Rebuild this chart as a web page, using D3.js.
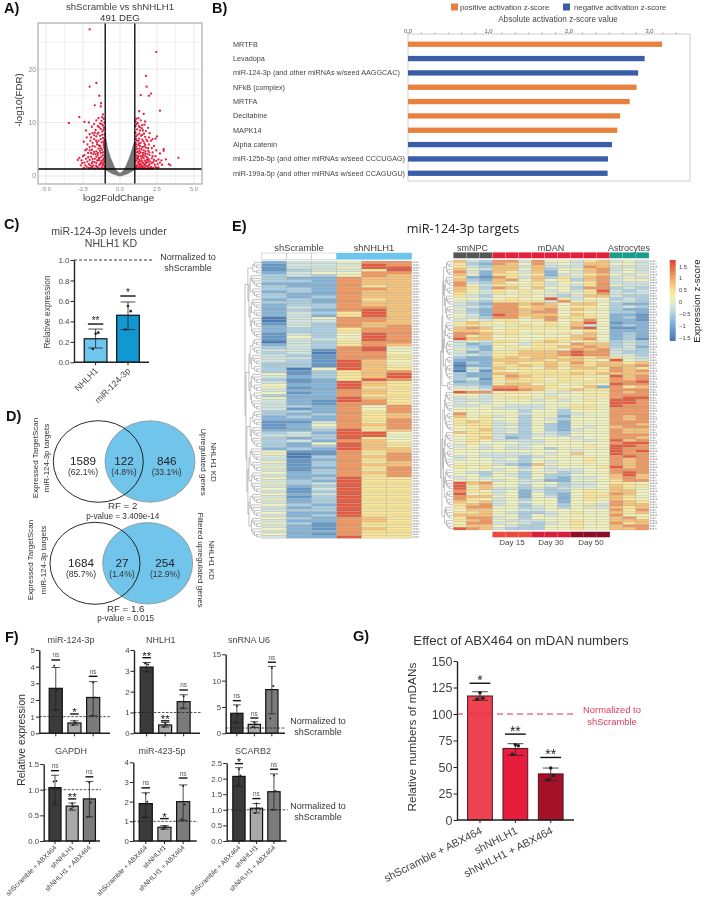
<!DOCTYPE html>
<html>
<head>
<meta charset="UTF-8">
<title>NHLH1 knockdown figure</title>
<script src="https://d3js.org/d3.v7.min.js"></script>
<style>
  html, body { margin: 0; padding: 0; background: #fff; }
  svg { display: block; filter: blur(0.35px); }
  text { font-family: "Liberation Sans", Arial, sans-serif; fill: #333; }
  .os { font-family: "Open Sans", sans-serif; }
</style>
</head>
<body>
<svg id="fig" width="705" height="899"></svg>
<script>
// ---- A) volcano ----
var volcanoTicksX = [-5, -2.5, 0, 2.5, 5];
var volcanoTicksY = [0, 10, 20];
var volcanoCuts = { fc: [-1, 1], fdr: 1.3 };
// outline of the grey non significant points
var volcanoGrey = [[0,-0.1],[-0.5,0.3],[-1.0,1.1],[-1.15,1.25],[-1.02,1.7],[-1.08,4],[-1.05,7],[-0.98,9.2],[-0.93,7],[-0.8,5],[-0.62,3.4],[-0.42,2.1],[-0.25,1.1],[-0.08,0.7],[0,0.55],[0.08,0.7],[0.25,1.1],[0.42,2.1],[0.6,3.3],[0.78,4.8],[0.93,6.2],[1.0,6.7],[1.06,5],[1.05,2],[1.15,1.25],[1.0,1.1],[0.5,0.3],[0,-0.1]];
var volcanoDown = [[-2.05,27.4],[-1.6,17.4],[-2.05,16.7],[-1.4,15],[-1.28,13.6],[-1.7,13.2],[-1.3,13],[-3.45,9.9],[-2.75,11],[-2.4,10.1],[-2.1,10],[-1.15,11.5],[-1.2,11],[-1.45,10.8],[-1.1,10.7],[-1.25,10.3],[-1.6,10.4],[-1.05,10],[-1.35,9.8],[-1.75,9.7],[-1.15,9.4],[-1.5,9.3],[-1.9,9.2],[-1.08,9],[-1.3,8.8],[-1.65,8.6],[-2.3,8.5],[-1.2,8.3],[-1.45,8.1],[-1.85,8],[-1.05,7.8],[-2.05,7.8],[-1.35,7.5],[-1.6,7.4],[-1.15,7.1],[-2.25,7.2],[-1.75,6.9],[-1.05,6.7],[-1.45,6.6],[-2,6.6],[-1.25,6.3],[-1.85,6.2],[-1.1,6],[-1.55,5.9],[-2.2,5.9],[-1.35,5.6],[-1.7,5.5],[-2.05,5.4],[-1.08,5.3],[-1.45,5.1],[-1.2,4.9],[-1.9,4.9],[-2.35,4.8],[-1.6,4.6],[-1.05,4.5],[-1.3,4.3],[-2.15,4.3],[-1.8,4.1],[-1.15,3.9],[-1.5,3.9],[-2.5,3.7],[-1.05,3.5],[-1.95,3.6],[-1.35,3.4],[-2.75,3.4],[-1.7,3.2],[-2.3,3.2],[-1.15,3],[-2.05,3],[-1.45,2.9],[-2.6,2.9],[-2.85,3],[-1.05,2.7],[-1.85,2.7],[-1.3,2.5],[-2.4,2.5],[-1.6,2.4],[-2.1,2.2],[-1.15,2.1],[-1.4,2],[-1.8,2],[-2.65,2],[-1.05,1.8],[-1.55,1.7],[-2.25,1.7],[-1.25,1.5],[-1.95,1.5],[-1.7,1.4],[-1.1,1.4],[-2.45,1.5],[-1.4,1.4],[-1.2,7.7],[-1.55,6.3],[-1.1,5.7],[-2.45,6.4],[-1.75,4.5],[-1.25,2.8],[-1.6,3.6],[-1.9,2.4],[-2.2,2.7],[-1.35,4.7],
[-1.12,8.6],[-1.22,9.7],[-1.4,9.1],[-1.52,7.9],[-1.7,8.1],[-1.12,6.4],[-1.3,6.9],[-1.62,6.6],[-1.85,5.6],[-1.42,5.7],[-1.15,4.4],[-1.5,4.3],[-1.95,4.3],[-1.65,4.1],[-1.25,3.6],[-1.45,3.4],[-1.85,3.2],[-2.15,3.5],[-2.4,3.9],[-1.12,2.5],[-1.35,2.2],[-1.55,2.9],[-1.72,2.6],[-2,2],[-2.35,2],[-1.5,1.5],[-1.85,1.6],[-2.1,1.5],[-1.2,1.8],[-1.62,1.9],[-2.55,2.4],[-2.05,4.8],[-2.25,5],[-1.95,7.2],[-1.1,3.2],[-1.3,5.2],[-1.75,7.6],[-1.42,3],[-1.2,2.3],[-1.9,1.8]];
var volcanoUp = [[2.45,23.2],[1.75,18.7],[1.8,16.7],[1.4,15.1],[1.95,15],[2.1,15.4],[2.7,12.2],[1.3,12.1],[1.6,11.6],[3.95,3.4],[3.3,2.2],[3.4,2],[2.95,5],[2.95,4.7],[2.5,7.4],[2.4,7],[2.2,6.9],[3.1,3.1],[2.8,2.9],[1.1,10.7],[1.25,10.8],[1.4,10.4],[1.05,10.2],[1.7,10.2],[1.2,9.9],[1.5,9.5],[1.65,9.6],[1.05,9.3],[1.35,9.1],[1.9,9],[1.15,8.7],[1.55,8.5],[1.75,8.4],[1.05,8.1],[1.3,7.9],[2,8],[1.5,7.7],[1.1,7.4],[1.7,7.3],[1.95,7.2],[1.3,7],[1.5,6.8],[1.15,6.6],[1.85,6.5],[2.1,6.6],[1.05,6.2],[1.4,6.2],[1.65,6.1],[1.25,5.8],[1.95,5.9],[2.3,5.6],[1.1,5.5],[1.5,5.4],[1.75,5.3],[2.15,5.2],[1.3,5.1],[1.05,4.8],[1.6,4.8],[2.45,4.8],[1.9,4.7],[1.2,4.5],[1.4,4.4],[2.2,4.4],[2.7,4.2],[1.7,4.2],[1.05,4],[1.55,3.9],[2,3.9],[1.25,3.7],[2.4,3.7],[1.8,3.5],[1.1,3.4],[1.45,3.3],[2.15,3.3],[2.6,3.1],[1.3,3],[1.65,2.9],[1.95,3],[2.45,2.8],[1.05,2.7],[1.5,2.6],[1.8,2.5],[2.25,2.6],[2.7,2.5],[1.2,2.4],[1.4,2.2],[2,2.2],[1.65,2.1],[1.1,2],[2.35,2.1],[1.3,1.9],[1.85,1.8],[1.55,1.7],[2.1,1.7],[1.05,1.6],[1.25,1.5],[1.7,1.5],[2.25,1.5],[1.45,1.4],[1.95,1.4],[2.5,1.5],[1.15,1.4],[1.35,2.7],[1.6,3.4],[1.75,2.7],[1.2,3.2],[1.4,1.6],[1.6,1.4],[1.85,1.4],[2.05,2.7],[2.15,1.4],[1.5,2],[1.3,4.2],[1.45,5],[1.15,5.1],[1.7,5.8],[1.25,6.6],[1.55,4.3],[1.85,4.1],[2.3,3],[1.35,8.5],
[1.12,9.7],[1.28,9.3],[1.48,8.9],[1.62,7.9],[1.18,7.7],[1.42,7.5],[1.08,6.9],[1.58,6.5],[1.78,6.8],[1.35,5.6],[1.62,5.5],[1.9,5.2],[1.12,4.4],[1.32,4.7],[1.72,4.6],[1.98,4.4],[1.4,3.7],[1.7,3.8],[1.15,3.8],[1.9,3.3],[1.25,2.7],[1.45,2.9],[1.58,2.4],[1.9,2.6],[2.15,2.4],[1.15,1.9],[1.35,1.5],[1.75,1.9],[1.95,2],[2.4,1.7],[2.05,1.5],[1.55,1.5],[1.22,3.4],[1.52,3.6],[1.82,3],[1.1,2.9],[1.3,2.2],[2.55,2.2],[2.2,3.7],[1.08,5.9],[1.28,6.1],[2.6,1.6],[2.85,2.1],[1.65,1.6],[1.12,1.7],[1.42,1.8],[1.72,2.3],[1.92,1.6]];

// ---- B) activation z-score ----
var zCategories = ["MRTFB", "Levadopa", "miR-124-3p (and other miRNAs w/seed AAGGCAC)", "NFkB (complex)", "MRTFA", "Decitabine", "MAPK14", "Alpha catenin", "miR-125b-5p (and other miRNAs w/seed CCCUGAG)", "miR-199a-5p (and other miRNAs w/seed CCAGUGU)"];
var zValues = [3.157, 2.94, 2.86, 2.84, 2.755, 2.635, 2.6, 2.535, 2.485, 2.48];
var zSign = ["pos", "neg", "neg", "pos", "pos", "pos", "pos", "neg", "neg", "neg"];
var zTicks = [0, 1, 2, 3];

// ---- C) ----
var cGroups = ["NHLH1", "miR-124-3p"];
var cValues = [0.23, 0.46];
var cErr = [[0.14, 0.325], [0.32, 0.59]];
var cSig = [0.374, 0.648];
var cSigLabels = ["**", "*"];
var cDots = [[0.13, 0.29, 0.28], [0.32, 0.5, 0.55]];
var cTicks = [0, 0.2, 0.4, 0.6, 0.8, 1.0];

// ---- F) ----
var fGroups = ["shScramble + ABX464", "shNHLH1", "shNHLH1 + ABX464"];
var mir124Values = [2.7, 0.62, 2.15], mir124Err = [[1.4, 3.95], [0.5, 0.75], [1.05, 3.1]], mir124Sig = [4.4, 1.16, 3.42], mir124Stars = ["ns", "*", "ns"], mir124Dots = [[4.05, 2.6, 1.4], [0.5, 0.62, 0.72], [1.05, 2.15, 3.05]];
var nhlh1Values = [3.18, 0.4, 1.52], nhlh1Err = [[2.95, 3.4], [0.3, 0.52], [1.2, 1.85]], nhlh1Sig = [3.63, 0.6, 2.08], nhlh1Stars = ["**", "**", "ns"], nhlh1Dots = [[3.35, 3.3, 2.95], [0.32, 0.4, 0.48], [1.2, 1.5, 1.78]];
var u6Values = [3.8, 1.7, 8.3], u6Err = [[2.0, 5.4], [1.1, 2.2], [3.7, 12.7]], u6Sig = [6.2, 2.9, 13.5], u6Stars = ["ns", "ns", "ns"], u6Dots = [[2.1, 3.6, 5.2], [1.2, 1.7, 2.1], [2.8, 9.0, 12.4]];
var gapdhValues = [1.04, 0.68, 0.82], gapdhErr = [[0.7, 1.28], [0.6, 0.74], [0.47, 1.16]], gapdhSig = [1.37, 0.82, 1.25], gapdhStars = ["ns", "**", "ns"], gapdhDots = [[1.16, 1.17, 0.75], [0.63, 0.67, 0.73], [0.47, 0.75, 1.14]];
var mir423Values = [1.9, 0.7, 2.0], mir423Err = [[1.2, 2.45], [0.6, 0.78], [1.05, 2.85]], mir423Sig = [2.7, 1.14, 3.2], mir423Stars = ["ns", "*", "ns"], mir423Dots = [[1.25, 2.0, 2.4], [0.62, 0.7, 0.76], [1.1, 1.85, 2.8]];
var scarb2Values = [2.07, 1.05, 1.58], scarb2Err = [[1.75, 2.35], [0.9, 1.2], [1.0, 2.15]], scarb2Sig = [2.48, 1.36, 2.3], scarb2Stars = ["*", "ns", "ns"], scarb2Dots = [[1.8, 2.1, 2.3], [0.9, 1.05, 1.2], [1.0, 1.6, 2.1]];

// ---- G) ----
var gValues = [117, 67.5, 43.5];
var gErr = [[113, 121], [61, 72], [37, 49]];
var gSig = [129, 81, 59];
var gStars = ["*", "**", "**"];
var gDots = [[114, 115, 120], [62, 70, 71], [38, 42, 49]];
var gTicks = [0, 25, 50, 75, 100, 125, 150];

// ---- E) heatmaps, one digit per cell, digit indexes heatZ ----
var heatZ = [-1.55, -1.2, -0.85, -0.5, -0.2, 0.1, 0.45, 0.8, 1.15, 1.6];
var heatColors = ["#4a7cb6", "#6397c8", "#83b2d8", "#abcee2", "#d0e3de", "#eef0c0", "#f8e59a", "#f6c27a", "#ee9560", "#e35a40"];
var heatLeft = [
"244 588","144 498","144 599","134 469","245 588","343 587","322 877","332 877","222 877","322 867",
"332 887","232 877","322 877","323 877","232 867","332 877","233 877","243 887","232 897","243 697",
"242 697","045 887","044 887","143 877","243 878","233 688","233 688","143 598","153 598","144 598",
"043 688","243 687","343 895","441 895","340 885","431 886","441 886","431 975","331 975","331 976",
"305 976","313 678","513 679","423 679","312 698","412 976","522 976","512 966","422 876","512 876",
"322 866","522 976","421 986","421 886","432 858","412 858","332 868","323 867","232 867","222 868",
"114 868","125 878","124 868","223 967","342 995","443 995","323 965","342 875","325 976","323 976",
"232 977","511 867","501 868","403 878","412 868","513 867","413 877","512 868","413 868","523 878",
"422 868","523 966","432 966","534 966","423 966","514 966","413 966","524 966","413 966","523 966",
"423 966","532 966","423 966","433 966","522 966","423 966","532 876","422 876","531 866","421 866",
"521 876","422 866","521 866","422 966"];
var heatRight = [
"743 884855467 454","632 875845477 554","643 774744487 444","754 775735578 454","842 764725478 454",
"752 665624567 545","621 864736478 454","732 785756378 455","843 755645568 444","854 665645468 544",
"763 875755388 343","754 656545469 434","654 655554568 444","643 556543477 433","554 565596455 343",
"543 666648565 443","432 887875775 322","443 886775665 343","532 887785765 322","432 887885655 332",
"542 987775765 221","543 886786665 231","454 665685685 221","676 565565795 122","565 556565745 232",
"787 566666895 112","776 565555565 222","887 665656575 232","867 565555775 232","977 555566785 231",
"454 665676565 343","423 654665877 343","432 565667787 342","542 556665878 443","423 667778988 433",
"443 667778988 443","322 676776767 654","222 777767765 954","132 676676867 767","022 667676767 778",
"143 766575776 876","041 656666666 878","322 776666767 777","322 687666665 978","341 676656656 878",
"232 566656566 889","332 677565665 988","443 887765572 867","554 998756766 888","988 566554555 878",
"554 655545566 888","454 566565555 899","444 555454565 998","454 555555555 998","445 544455665 988",
"555 444454665 888","555 553553555 888","855 554553455 888","756 453552555 878","656 553543555 878",
"676 453552555 888","666 443532555 887","566 453532545 788","567 443532455 877","766 453543555 877",
"566 433443555 888","567 423555455 887","565 444455545 978","565 554455555 899","454 544555565 998",
"554 544535555 988","555 555555455 989","554 444545755 988","454 443455555 898","455 453555565 878",
"555 443545565 878","555 432755555 878","656 553545556 978","555 454544455 888","543 553553455 898",
"553 543533555 797","454 553532445 787","555 454422555 688","978 554553445 665","967 553543445 766",
"957 443434555 765","865 452433565 775","956 452532566 875","877 552542566 765","865 453552565 765",
"767 454552555 876","678 453553564 877","688 553453544 767","577 554455555 868","667 543345655 767",
"777 553545555 855","688 453555555 786","678 544455655 777","588 454345655 867","677 543355655 788",
"987 433355655 778"];
var colorbarTicks = [-1.5, -1, -0.5, 0, 0.5, 1, 1.5];
// dendrograms as nested clusters, a number is a small ladder of that many rows
var dendroLeft = [[[[3,2],[[5,4],[[4,3],[4,4]]]]],[[[[3,3],[4,3]],[[4,3],[3,4]]],[[[3,3],[4,4]],[[[5,4],[4,4]],[[4,5],[4,4]]]]]];
var dendroRight = [[[[[[3,3],[[4,3],[4,[3,3]]]],[[[4,3],[3,3]],[3,[3,3]]]],[2,2]]],[[[[4,4],[3,4]],[[[4,3],[3,4]],[[4,4],[3,3]]]],[5,4]]];

var svg = d3.select("#fig");
var BLUE = "#3a5da8", ORANGE = "#e8803e";

function txt(parent, x, y, s, size, opt) {
  opt = opt || {};
  var t = parent.append("text")
    .attr("x", x).attr("y", y)
    .attr("font-size", size)
    .attr("text-anchor", opt.anchor || "middle")
    .style("fill", opt.fill || "#333")
    .text(s);
  if (opt.weight) t.attr("font-weight", opt.weight);
  if (opt.cls) t.attr("class", opt.cls);
  if (opt.rotate !== undefined) t.attr("transform", "rotate(" + opt.rotate + "," + x + "," + y + ")");
  return t;
}

// panel letters
[["A)", 4, 13], ["B)", 212, 13], ["C)", 4, 229], ["D)", 6, 421], ["E)", 232, 231], ["F)", 5, 642], ["G)", 353, 641]].forEach(function(p) {
  txt(svg, p[1], p[2], p[0], 14.5, { anchor: "start", weight: "bold", fill: "#111" });
});

// ---------- A ----------
(function() {
  var x = d3.scaleLinear().domain([-5.54, 5.54]).range([38, 202]);
  var y = d3.scaleLinear().domain([-1.5, 28.6]).range([184, 23]);
  var g = svg.append("g");
  d3.range(-5, 5.1, 1.25).forEach(function(v) {
    g.append("line").attr("x1", x(v)).attr("x2", x(v)).attr("y1", y.range()[1]).attr("y2", y.range()[0])
      .attr("stroke", "#e6e6e6").attr("stroke-width", volcanoTicksX.indexOf(v) >= 0 ? 0.9 : 0.5);
  });
  d3.range(0, 26, 5).forEach(function(v) {
    g.append("line").attr("x1", 38).attr("x2", 202).attr("y1", y(v)).attr("y2", y(v))
      .attr("stroke", "#e6e6e6").attr("stroke-width", volcanoTicksY.indexOf(v) >= 0 ? 0.9 : 0.5);
  });
  g.append("path").datum(volcanoGrey)
    .attr("d", d3.line().x(function(d) { return x(d[0]); }).y(function(d) { return y(d[1]); }))
    .attr("fill", "#777");
  g.selectAll(".red").data(volcanoDown.concat(volcanoUp)).enter().append("circle")
    .attr("cx", function(d) { return x(d[0]); }).attr("cy", function(d) { return y(d[1]); })
    .attr("r", 1.15).attr("fill", "#e3203f");
  volcanoCuts.fc.forEach(function(v) {
    g.append("line").attr("x1", x(v)).attr("x2", x(v)).attr("y1", 23).attr("y2", 184).attr("stroke", "#000").attr("stroke-width", 1.3);
  });
  g.append("line").attr("x1", 38).attr("x2", 202).attr("y1", y(volcanoCuts.fdr)).attr("y2", y(volcanoCuts.fdr)).attr("stroke", "#000").attr("stroke-width", 1.3);
  g.append("rect").attr("x", 38).attr("y", 23).attr("width", 164).attr("height", 161).attr("fill", "none").attr("stroke", "#aaa").attr("stroke-width", 1.2);
  volcanoTicksX.forEach(function(v) {
    txt(g, x(v), 191, v.toFixed(1), 5.6, { fill: "#888" });
  });
  volcanoTicksY.forEach(function(v) {
    txt(g, 36, y(v) + 2.5, v, 6.8, { anchor: "end", fill: "#888" });
  });
  txt(g, 120, 10, "shScramble vs shNHLH1", 9.7, { fill: "#444" });
  txt(g, 120, 20.5, "491 DEG", 9.7, { fill: "#333" });
  txt(g, 118.5, 201, "log2FoldChange", 9.7, { fill: "#333" });
  txt(g, 22, 100, "-log10(FDR)", 9.7, { rotate: -90, fill: "#333" });
})();

// ---------- B ----------
(function() {
  var x = d3.scaleLinear().domain([0, 3.5]).range([408, 689.7]);
  var y = d3.scaleBand().domain(zCategories).range([37, 180.5]).paddingInner(0.63).paddingOuter(0.32);
  var g = svg.append("g");
  g.append("rect").attr("x", 408).attr("y", 34).attr("width", 282).attr("height", 147).attr("fill", "none").attr("stroke", "#bbb").attr("stroke-width", 0.7);
  g.selectAll("rect.bar").data(zValues).enter().append("rect").attr("class", "bar")
    .attr("x", x(0)).attr("y", function(d, i) { return y(zCategories[i]); })
    .attr("width", function(d) { return x(d) - x(0); }).attr("height", y.bandwidth())
    .attr("fill", function(d, i) { return zSign[i] === "pos" ? ORANGE : BLUE; });
  zCategories.forEach(function(c) {
    txt(g, 233, y(c) + y.bandwidth() / 2 + 2.4, c, 7.25, { anchor: "start", fill: "#444" });
  });
  d3.range(0, 21).forEach(function(i) {
    var v = i / 6;
    g.append("line").attr("x1", x(v)).attr("x2", x(v)).attr("y1", 32.5).attr("y2", 34).attr("stroke", "#555").attr("stroke-width", 0.5);
  });
  zTicks.forEach(function(v) {
    txt(g, x(v), 32.5, v.toFixed(1), 5.8, { fill: "#555" });
  });
  g.append("rect").attr("x", 451).attr("y", 3.5).attr("width", 7).attr("height", 7).attr("fill", ORANGE);
  txt(g, 460, 10, "positive activation z-score", 7.8, { anchor: "start", fill: "#444" });
  g.append("rect").attr("x", 563).attr("y", 3.5).attr("width", 7).attr("height", 7).attr("fill", BLUE);
  txt(g, 574, 10, "negative activation z-score", 7.8, { anchor: "start", fill: "#444" });
  txt(g, 558, 21.5, "Absolute activation z-score value", 8.2, { fill: "#444" });
})();

// ---------- bar panels ----------
function barPanel(cfg) {
  var g = svg.append("g");
  var y = d3.scaleLinear().domain([0, cfg.max]).range([cfg.yBot, cfg.yTop]);
  var x = d3.scaleBand().domain(cfg.groups).range(cfg.band).paddingInner(0.3).paddingOuter(0.15);
  var stroke = cfg.lw || 1.2;

  g.selectAll("rect.bar").data(cfg.values).enter().append("rect").attr("class", "bar")
    .attr("x", function(d, i) { return x(cfg.groups[i]); })
    .attr("y", function(d) { return y(d); })
    .attr("width", x.bandwidth())
    .attr("height", function(d) { return cfg.yBot - y(d); })
    .attr("fill", function(d, i) { return cfg.colors[i]; })
    .attr("stroke", cfg.barStroke || "#111").attr("stroke-width", stroke);

  cfg.err.forEach(function(e, i) {
    var cx = x(cfg.groups[i]) + x.bandwidth() / 2, cap = x.bandwidth() * 0.32;
    g.append("line").attr("x1", cx).attr("x2", cx).attr("y1", y(e[0])).attr("y2", y(e[1])).attr("stroke", "#222").attr("stroke-width", 0.8);
    e.forEach(function(v) {
      g.append("line").attr("x1", cx - cap).attr("x2", cx + cap).attr("y1", y(v)).attr("y2", y(v)).attr("stroke", "#222").attr("stroke-width", 0.8);
    });
    cfg.dots[i].forEach(function(v, j) {
      g.append("circle").attr("cx", cx + [-0.12, 0.12, 0][j] * x.bandwidth()).attr("cy", y(v)).attr("r", cfg.dotR || 1.1).attr("fill", "#222");
    });
    var half = x.bandwidth() * (cfg.sigW || 0.34), sy = y(cfg.sig[i]);
    g.append("line").attr("x1", cx - half).attr("x2", cx + half).attr("y1", sy).attr("y2", sy).attr("stroke", "#111").attr("stroke-width", 1.4);
    var ns = cfg.stars[i] === "ns";
    txt(g, cx, ns ? sy - 2.5 : sy + (cfg.starDy || 0), cfg.stars[i], ns ? 6.4 : (cfg.starSize || 9), { fill: ns ? "#555" : "#222" });
  });

  if (cfg.dash) {
    g.append("line").attr("x1", cfg.x0).attr("x2", cfg.dash.end).attr("y1", y(cfg.dash.at)).attr("y2", y(cfg.dash.at))
      .attr("stroke", cfg.dash.color || "#222").attr("stroke-width", cfg.dash.w || 0.8).attr("stroke-dasharray", cfg.dash.pattern || "2.5 1.5");
  }

  var ay = g.append("g").attr("transform", "translate(" + cfg.x0 + ",0)")
    .call(d3.axisLeft(y).tickValues(cfg.ticks).tickSize(3.5).tickSizeOuter(0).tickFormat(cfg.fmt || function(d) { return d; }));
  var ax = g.append("g").attr("transform", "translate(0," + cfg.yBot + ")")
    .call(d3.axisBottom(x).tickSize(3).tickSizeOuter(0).tickFormat(""));
  ax.select(".domain").attr("d", "M" + cfg.x0 + ",0H" + cfg.xEnd);
  [ay, ax].forEach(function(a) {
    a.select(".domain").attr("stroke", "#222").attr("stroke-width", cfg.axisW || 1.4);
    a.selectAll(".tick line").attr("stroke", "#222").attr("stroke-width", 1);
  });
  ay.selectAll("text").attr("font-size", cfg.tickSize || 7.8).attr("font-family", null).attr("x", -4.5).style("fill", "#444");

  cfg.groups.forEach(function(c) {
    if (!cfg.labelSize) return;
    var cx = x(c) + x.bandwidth() / 2 + (cfg.labelDx || 2);
    txt(g, cx, cfg.yBot + (cfg.labelDy || 8), c, cfg.labelSize, { anchor: "end", rotate: cfg.labelRot || -45, fill: "#444" });
  });
  if (cfg.title) txt(g, cfg.titleX, cfg.titleY, cfg.title, cfg.titleSize || 9, { fill: "#444" });
  return g;
}

var fColors = ["#3b3b3b", "#a9a9a9", "#7b7b7b"];
function fPanel(title, titleX, titleY, x0, xEnd, band, yTop, yBot, max, ticks, fmt, values, err, sig, stars, dots, labels) {
  barPanel({
    title: title, titleX: titleX, titleY: titleY, titleSize: 9,
    x0: x0, xEnd: xEnd, band: band, yTop: yTop, yBot: yBot, max: max, ticks: ticks, fmt: fmt,
    groups: fGroups, values: values, err: err, sig: sig, stars: stars, dots: dots, colors: fColors,
    dash: { at: 1, end: xEnd + 1 }, labelSize: labels ? 6.8 : 0, labelDy: 7, sigW: 0.33, starSize: 11.5, starDy: 2.5, dotR: 1
  });
}

// ---------- C ----------
barPanel({
  x0: 74, xEnd: 149, band: [79.4, 144.2], yTop: 260, yBot: 362.3, max: 1, ticks: cTicks,
  fmt: d3.format(".1f"), groups: cGroups, values: cValues, err: cErr, sig: cSig, stars: cSigLabels, dots: cDots,
  colors: ["#6cc6ee", "#1197d2"], dash: { at: 1, end: 152, pattern: "3 2", w: 0.9 },
  labelSize: 8.8, labelDx: 3, labelDy: 9, tickSize: 8, sigW: 0.34, starSize: 10, starDy: 0, dotR: 1.3
});
txt(svg, 109, 235, "miR-124-3p levels under", 10.6, { fill: "#444" });
txt(svg, 111, 247, "NHLH1 KD", 10.6, { fill: "#444" });
txt(svg, 188, 260, "Normalized to", 9);
txt(svg, 188, 271, "shScramble", 9);
txt(svg, 50, 312, "Relative expression", 8.4, { rotate: -90, fill: "#444" });

// ---------- D ----------
function venn(cyV, blackX, blackRx, blackRy, blueX, nums, pcts, numX, numY, pctY) {
  var g = svg.append("g");
  g.append("ellipse").attr("cx", blueX).attr("cy", cyV).attr("rx", 45).attr("ry", 40.7).attr("fill", "#71c5ea").attr("stroke", "#8b8f92").attr("stroke-width", 0.8);
  g.append("ellipse").attr("cx", blackX).attr("cy", cyV).attr("rx", blackRx).attr("ry", blackRy).attr("fill", "none").attr("stroke", "#111").attr("stroke-width", 0.9);
  nums.forEach(function(n, i) {
    txt(g, numX[i], numY, n, 11.7, { fill: "#222" });
    txt(g, numX[i], pctY, pcts[i], 8.6, { fill: "#333" });
  });
}
venn(461.5, 98.3, 45, 40.8, 150, ["1589", "122", "846"], ["(62.1%)", "(4.8%)", "(33.1%)"], [83, 124, 166.7], 465.2, 475);
venn(563.3, 95, 45, 41, 147.7, ["1684", "27", "254"], ["(85.7%)", "(1.4%)", "(12.9%)"], [81, 122, 165], 567, 577);
txt(svg, 122.7, 509, "RF = 2", 9.7);
txt(svg, 122.7, 518.5, "p-value = 3.409e-14", 8.2);
txt(svg, 125.7, 611.5, "RF = 1.6", 9.7);
txt(svg, 125.7, 621, "p-value = 0.015", 8.2);
txt(svg, 37.5, 458, "Expressed TargetScan", 8, { rotate: -90 });
txt(svg, 48.5, 458, "miR-124-3p targets", 8, { rotate: -90 });
txt(svg, 211, 462, "NHLH1 KD", 8, { rotate: 90 });
txt(svg, 200.5, 462, "Upregulated genes", 8, { rotate: 90 });
txt(svg, 33, 560, "Expressed TargetScan", 8, { rotate: -90 });
txt(svg, 45.5, 560, "miR-124-3p targets", 8, { rotate: -90 });
txt(svg, 209, 560, "NHLH1 KD", 8, { rotate: 90 });
txt(svg, 198, 560, "Filtered upregulated genes", 8, { rotate: 90 });

// ---------- E ----------
var heatColor = d3.scaleLinear().domain(heatZ).range(heatColors);
function digits(s) { return s.replace(/ /g, "").split("").map(function(c) { return heatZ[+c]; }); }

function heatmap(rows, x0, x1, y0, y1, dendro, dendroX, nCols) {
  var cols = d3.range(nCols);
  var x = d3.scaleBand().domain(cols).range([x0, x1]);
  var y = d3.scaleBand().domain(d3.range(rows.length)).range([y0, y1]);
  var g = svg.append("g");
  rows.forEach(function(r, i) {
    g.selectAll(null).data(digits(r)).enter().append("rect")
      .attr("x", function(d, c) { return x(c); }).attr("y", y(i))
      .attr("width", x.bandwidth()).attr("height", y.bandwidth())
      .attr("fill", function(d) { return heatColor(d); })
      .attr("stroke", "#9b9b8c").attr("stroke-width", 0.22);
    g.append("line").attr("x1", x1 + 1).attr("x2", x1 + 6.5 + (i % 3)).attr("y1", y(i) + y.bandwidth() / 2).attr("y2", y(i) + y.bandwidth() / 2)
      .attr("stroke", "#a8a8a8").attr("stroke-width", 1.5).attr("stroke-dasharray", "1 0.5");
  });
  // dendrogram
  var root = d3.hierarchy(dendro, function(d) {
    if (Array.isArray(d)) return d;
    return d > 1 ? [1, d - 1] : null;
  });
  var leaf = 0;
  root.eachAfter(function(n) {
    if (!n.children) { n.py = y(leaf++) + y.bandwidth() / 2; }
    else { n.py = (n.children[0].py + n.children[n.children.length - 1].py) / 2; }
  });
  var dx = d3.scalePow().exponent(0.55).domain([0, root.height]).range([x0 - 0.5, dendroX]);
  var path = "";
  root.each(function(n) {
    if (!n.children) return;
    var px = dx(n.height);
    path += "M" + px + "," + n.children[0].py + "V" + n.children[n.children.length - 1].py;
    n.children.forEach(function(c) { path += "M" + px + "," + c.py + "H" + dx(c.height); });
  });
  g.append("path").attr("d", path).attr("fill", "none").attr("stroke", "#777").attr("stroke-width", 0.45);
  return x;
}

var xLeft = heatmap(heatLeft, 261.7, 411.7, 261, 538.3, dendroLeft, 245, 6);
var xRight = heatmap(heatRight, 453.3, 649, 260, 530, dendroRight, 440.5, 15);

["w", "w", "w", "b", "b", "b"].forEach(function(k, i) {
  svg.append("rect").attr("x", xLeft(i)).attr("y", 253).attr("width", xLeft.bandwidth()).attr("height", 6.3)
    .attr("fill", k === "w" ? "#fff" : "#6cc5ec").attr("stroke", k === "w" ? "#aaa" : "#6cc5ec").attr("stroke-width", 0.4);
});
d3.range(15).forEach(function(i) {
  svg.append("rect").attr("x", xRight(i)).attr("y", 252.3).attr("width", xRight.bandwidth()).attr("height", 6)
    .attr("fill", i < 3 ? "#565656" : i < 12 ? "#e0203c" : "#1a9e88").attr("stroke", "#fff").attr("stroke-width", 0.15);
});
d3.range(3, 12).forEach(function(i) {
  svg.append("rect").attr("x", xRight(i)).attr("y", 531.7).attr("width", xRight.bandwidth()).attr("height", 5.6)
    .attr("fill", i < 6 ? "#ec4a3c" : i < 9 ? "#d61f3c" : "#8b0f26");
});
txt(svg, 299, 251, "shScramble", 9.4, { fill: "#444" });
txt(svg, 374, 251, "shNHLH1", 9.4, { fill: "#444" });
txt(svg, 472.5, 250.5, "smNPC", 9, { fill: "#444" });
txt(svg, 551, 250.5, "mDAN", 9, { fill: "#444" });
txt(svg, 629, 250.5, "Astrocytes", 9, { fill: "#444" });
txt(svg, 512, 545, "Day 15", 8, { fill: "#444" });
txt(svg, 551, 545, "Day 30", 8, { fill: "#444" });
txt(svg, 591, 545, "Day 50", 8, { fill: "#444" });
txt(svg, 463, 233, "miR-124-3p targets", 12.7, { cls: "os", fill: "#222" });

// colorbar
(function() {
  var y = d3.scaleLinear().domain([-1.5, 1.5]).range([338, 266.7]);
  var defs = svg.append("defs").append("linearGradient").attr("id", "zbar").attr("x1", 0).attr("y1", 1).attr("x2", 0).attr("y2", 0);
  var lo = y.invert(341), hi = y.invert(260);
  d3.range(0, 1.001, 0.05).forEach(function(t) {
    defs.append("stop").attr("offset", t).attr("stop-color", heatColor(lo + (hi - lo) * t));
  });
  svg.append("rect").attr("x", 669.7).attr("y", 260).attr("width", 6).attr("height", 81).attr("fill", "url(#zbar)");
  colorbarTicks.forEach(function(v) {
    txt(svg, 679, y(v) + 1.8, v === 0 ? "0" : String(v).replace("-", "\u2212"), 5.8, { anchor: "start", fill: "#444" });
  });
  txt(svg, 700, 301, "Expression z-score", 9.8, { rotate: -90, fill: "#222" });
})();

// ---------- F ----------
var f1 = d3.format(".1f");
fPanel("miR-124-3p", 71, 643, 39.3, 110, [46.4, 102.5], 650, 733.3, 5, [0, 1, 2, 3, 4, 5], null, mir124Values, mir124Err, mir124Sig, mir124Stars, mir124Dots, false);
fPanel("NHLH1", 160.7, 643, 134, 200, [137.4, 192.9], 650, 733.3, 4, [0, 1, 2, 3, 4], null, nhlh1Values, nhlh1Err, nhlh1Sig, nhlh1Stars, nhlh1Dots, false);
fPanel("snRNA U6", 249, 643, 225.7, 285, [228.1, 280.6], 654.3, 733.3, 15, [0, 5, 10, 15], null, u6Values, u6Err, u6Sig, u6Stars, u6Dots, false);
fPanel("GAPDH", 71, 754, 43.7, 100, [46.4, 98], 764, 841, 1.5, [0, 0.5, 1, 1.5], f1, gapdhValues, gapdhErr, gapdhSig, gapdhStars, gapdhDots, true);
fPanel("miR-423-5p", 162, 754, 133.3, 196.7, [136.4, 192.5], 762.3, 841, 4, [0, 1, 2, 3, 4], null, mir423Values, mir423Err, mir423Sig, mir423Stars, mir423Dots, true);
fPanel("SCARB2", 253, 754, 226.7, 286.7, [230.2, 282.7], 763, 841, 2.5, [0, 0.5, 1, 1.5, 2, 2.5], f1, scarb2Values, scarb2Err, scarb2Sig, scarb2Stars, scarb2Dots, true);
txt(svg, 25, 740, "Relative expression", 10.5, { rotate: -90, fill: "#333" });
txt(svg, 318, 724, "Normalized to", 9);
txt(svg, 318, 735, "shScramble", 9);
txt(svg, 318, 808.5, "Normalized to", 9);
txt(svg, 318, 819.5, "shScramble", 9);

// ---------- G ----------
barPanel({
  x0: 457, xEnd: 574, band: [462.3, 568.4], yTop: 661, yBot: 820, max: 150, ticks: gTicks,
  groups: fGroups, values: gValues, err: gErr, sig: gSig, stars: gStars, dots: gDots,
  colors: ["#ef4250", "#e81c3c", "#a51227"], barStroke: "#4a1a20", lw: 1,
  dash: { at: 100, end: 577, color: "#e8284a", pattern: "6 4", w: 1.2 },
  labelSize: 10.8, labelRot: -27, labelDx: 3, labelDy: 13, tickSize: 12.5, sigW: 0.42, starSize: 14, starDy: 2, dotR: 1.8
});
txt(svg, 521, 644.5, "Effect of ABX464 on mDAN numbers", 13.2, { fill: "#333" });
txt(svg, 415.5, 737, "Relative numbers of mDANs", 11.8, { rotate: -90, fill: "#333" });
txt(svg, 612, 713, "Normalized to", 9.4, { fill: "#e8385a" });
txt(svg, 612, 724.5, "shScramble", 9.4, { fill: "#e8385a" });
</script>
</body>
</html>
